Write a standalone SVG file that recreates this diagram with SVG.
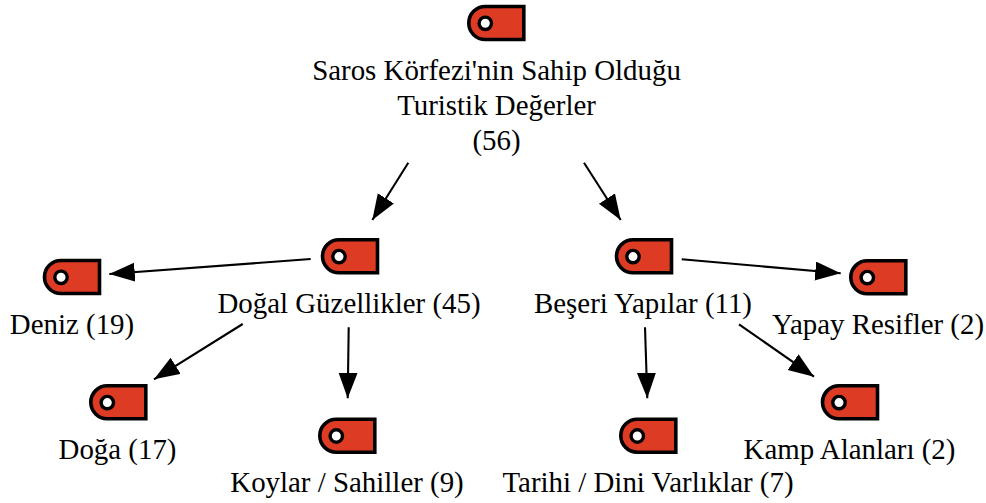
<svg xmlns="http://www.w3.org/2000/svg" width="986" height="503" viewBox="0 0 986 503">
<style>
text{font-family:"Liberation Serif","Times New Roman",serif;font-size:28.9px;fill:#000;text-anchor:middle}
.c{stroke:#000;stroke-width:2.1;fill:none;marker-end:url(#a)}
.t{fill:#dd3b24;stroke:#000;stroke-width:3.6}
.h{fill:#fff;stroke:#000;stroke-width:3.4}
</style>
<defs>
<marker id="a" markerUnits="userSpaceOnUse" markerWidth="27" markerHeight="20" refX="25.500" refY="9.500" orient="auto"><path d="M0 0L25.500 9.500L0 19Z" fill="#000"/></marker>
<symbol id="tag" overflow="visible"><path class="t" d="M16.500 0H55V33H16.500A16.500 16.500 0 0 1 16.500 0Z"/><circle class="h" cx="16.500" cy="16.800" r="6.200"/></symbol>
</defs>
<rect width="986" height="503" fill="#fff"/>
<g id="connectors">
<path class="c" d="M408.300 162.700L372.300 220"/>
<path class="c" d="M584 162.700L620.700 220"/>
<path class="c" d="M310.700 259L109.300 274"/>
<path class="c" d="M242.700 324L154 379.300"/>
<path class="c" d="M348.700 327.300L347.700 398.300"/>
<path class="c" d="M681.700 259.300L840.700 273.300"/>
<path class="c" d="M645 327.300L647.300 398.300"/>
<path class="c" d="M739 324.300L814 376.700"/>
</g>
<g id="root"><use href="#tag" x="468.800" y="6.500"/><text x="496.500" y="80">Saros Körfezi'nin Sahip Olduğu</text><text x="496.500" y="114.500">Turistik Değerler</text><text x="496.500" y="150">(56)</text></g>
<g id="dogal"><use href="#tag" x="322.500" y="239.800"/><text x="349" y="312.700">Doğal Güzellikler (45)</text></g>
<g id="beseri"><use href="#tag" x="616.500" y="239.800"/><text x="643" y="312.700">Beşeri Yapılar (11)</text></g>
<g id="deniz"><use href="#tag" x="44.500" y="260.500"/><text x="72" y="334">Deniz (19)</text></g>
<g id="yapay"><use href="#tag" x="850.800" y="260.800"/><text x="878" y="334">Yapay Resifler (2)</text></g>
<g id="doga"><use href="#tag" x="90.800" y="385.800"/><text x="117.500" y="458.500">Doğa (17)</text></g>
<g id="koylar"><use href="#tag" x="319.800" y="419.200"/><text x="347" y="491.700">Koylar / Sahiller (9)</text></g>
<g id="tarihi"><use href="#tag" x="620.800" y="419.200"/><text x="648" y="491.700">Tarihi / Dini Varlıklar (7)</text></g>
<g id="kamp"><use href="#tag" x="822.500" y="385.800"/><text x="849.500" y="458.500">Kamp Alanları (2)</text></g>
</svg>
